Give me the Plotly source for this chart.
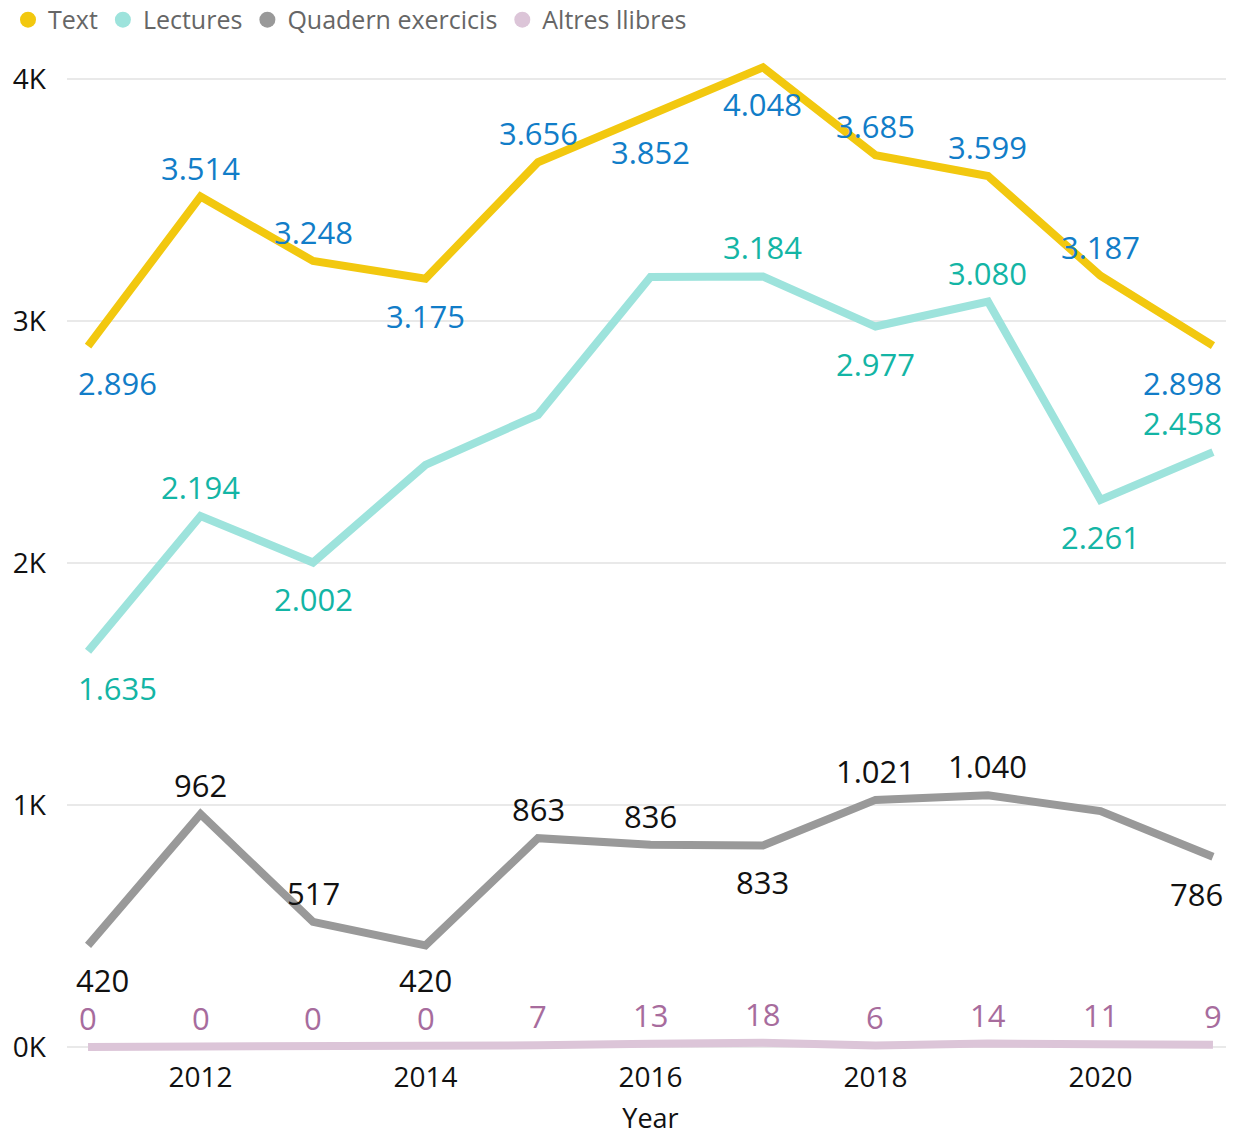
import plotly.graph_objects as go

years = [2011, 2012, 2013, 2014, 2015, 2016, 2017, 2018, 2019, 2020, 2021]
text_vals = [2896, 3514, 3248, 3175, 3656, 3852, 4048, 3685, 3599, 3187, 2898]
lectures_vals = [1635, 2194, 2002, 2405, 2612, 3182, 3184, 2977, 3080, 2261, 2458]
quadern_vals = [420, 962, 517, 420, 863, 836, 833, 1021, 1040, 975, 786]
altres_vals = [0, 0, 0, 0, 7, 13, 18, 6, 14, 11, 9]
series_names = ["Text", "Lectures", "Quadern exercicis", "Altres llibres"]
y_tick_vals = [0, 1000, 2000, 3000, 4000]
y_tick_text = ["0K", "1K", "2K", "3K", "4K"]
x_tick_vals = [2012, 2014, 2016, 2018, 2020]

FONT = "Segoe UI, Open Sans, sans-serif"
line_colors = ["#F2C80F", "#9DE3DC", "#999999", "#DCC5D8"]
label_colors = ["#117DC8", "#13B5A5", "#111111", "#A76C9D"]

# label offsets (dx, dy) in pixels; None = label hidden (as in reference)
U, D = -29, 37
offsets = [
    [(29, D), (0, U), (0, U), (0, D), (0, U), (0, D), (0, D), (0, U), (0, U), (0, U), (-30, D)],
    [(29, D), (0, U), (0, D), None, None, None, (0, U), (0, D), (0, U), (0, D), (-30, U)],
    [(14, 35), (0, U), (0, U), (0, 35), (0, U), (0, U), (0, D), (0, U), (0, U), None, (-16, D)],
    [(0, U), (0, U), (0, U), (0, U), (0, U), (0, U), (0, U), (0, U), (0, U), (0, U), (0, U)],
]

all_vals = [text_vals, lectures_vals, quadern_vals, altres_vals]


def fmt(v):
    return f"{v:,}".replace(",", ".")


fig = go.Figure()
annotations = []
for name, vals, lc, tc, offs in zip(series_names, all_vals, line_colors, label_colors, offsets):
    fig.add_trace(go.Scatter(
        x=years, y=vals, mode="lines", name=name, showlegend=False,
        line=dict(color=lc, width=8), hoverinfo="x+y+name",
    ))
    for x, v, o in zip(years, vals, offs):
        if o is None:
            continue
        annotations.append(dict(
            x=x, y=v, xref="x", yref="y", text=fmt(v), showarrow=False,
            xshift=o[0], yshift=-o[1],
            font=dict(family=FONT, size=31, color=tc),
        ))

# legend entries (circle markers)
for name, lc in zip(series_names, line_colors):
    fig.add_trace(go.Scatter(
        x=[None], y=[None], mode="markers", name=name,
        marker=dict(color=lc, size=22, symbol="circle"),
    ))

fig.update_layout(
    width=1226, height=1128,
    margin=dict(l=59, r=0, t=47, b=78),
    paper_bgcolor="white", plot_bgcolor="white",
    font=dict(family=FONT, color="#111111"),
    annotations=annotations,
    legend=dict(
        orientation="h", xref="container", yref="container",
        x=0.0, y=0.9894, xanchor="left", yanchor="middle",
        font=dict(family=FONT, size=25, color="#666666"),
        itemwidth=30, tracegroupgap=0, bgcolor="rgba(0,0,0,0)",
        borderwidth=0,
    ),
    xaxis=dict(
        range=[2010.813, 2021.187], tickvals=x_tick_vals,
        tickfont=dict(family=FONT, size=28, color="#111111"),
        showgrid=False, zeroline=False, showline=False, ticks="",
        title=dict(text="Year", font=dict(family=FONT, size=27, color="#111111"), standoff=17),
    ),
    yaxis=dict(
        range=[-45.5, 4099], tickvals=y_tick_vals, ticktext=y_tick_text,
        tickfont=dict(family=FONT, size=28, color="#111111"),
        showgrid=True, gridcolor="#E9E9E9", gridwidth=2,
        zeroline=False, showline=False, ticks="", ticklabelstandoff=20,
    ),
)

fig.write_html("out.html")
